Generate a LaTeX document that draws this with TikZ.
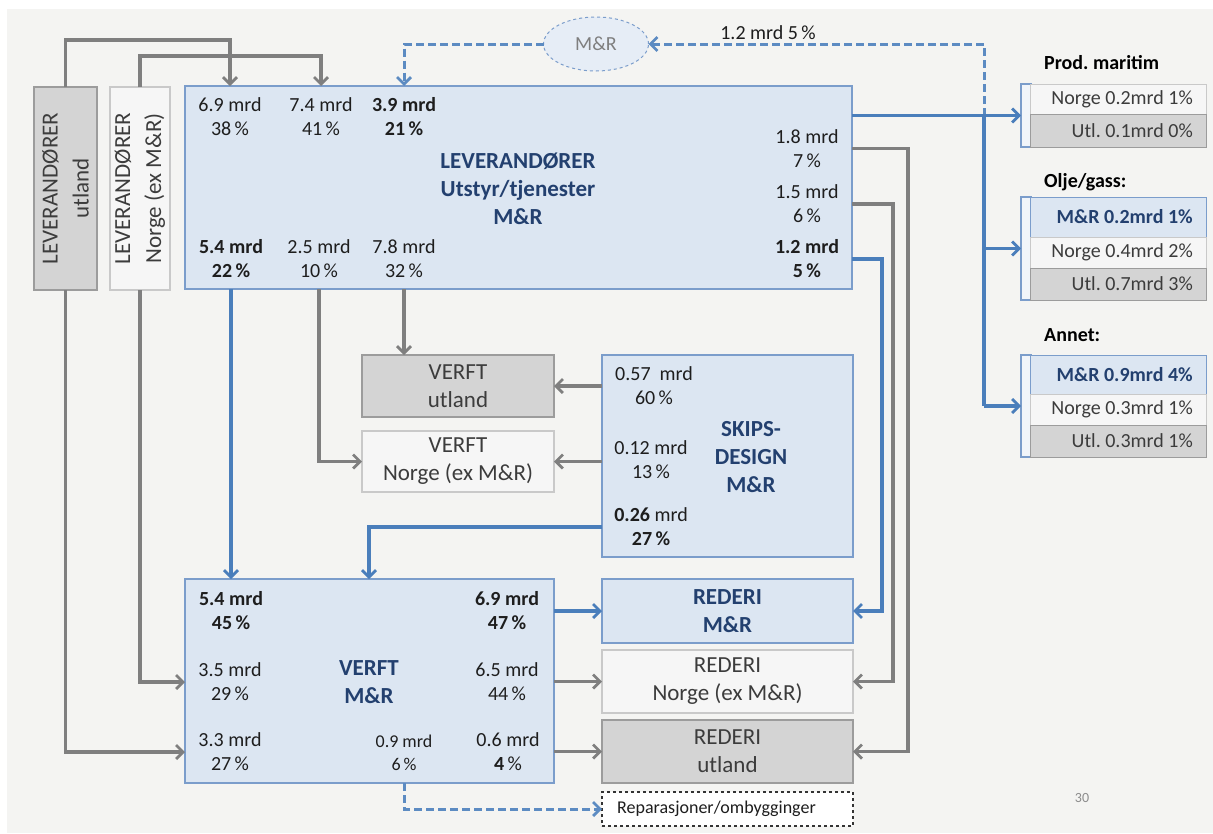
\documentclass[tikz,border=0pt]{standalone}
\usepackage{fontspec}
\setmainfont{Carlito}
\usetikzlibrary{arrows.meta,shapes.geometric,calc}
\frenchspacing
\definecolor{pagebg}{HTML}{F4F4F2}
\definecolor{bfill}{HTML}{DCE6F2}
\definecolor{bedge}{HTML}{7B9DCB}
\definecolor{bline}{HTML}{4A7EBB}
\definecolor{gline}{HTML}{7F7F7F}
\definecolor{gfill}{HTML}{D4D4D4}
\definecolor{gedge}{HTML}{9C9C9C}
\definecolor{lfill}{HTML}{F6F6F6}
\definecolor{ledge}{HTML}{C9C9C9}
\definecolor{ttlblue}{HTML}{23406F}
\definecolor{numtxt}{HTML}{1E1E1E}
\definecolor{boxtxt}{HTML}{3C3C3C}
\definecolor{pgtxt}{HTML}{8C8C8C}
\tikzset{
 boxbase/.style={draw, rectangle, inner sep=0pt, outer sep=0pt, line width=1.2pt},
 bluebox/.style={boxbase, fill=bfill, draw=bedge},
 graybox/.style={boxbase, fill=gfill, draw=gedge},
 lightbox/.style={boxbase, fill=lfill, draw=ledge},
 num/.style={align=center, inner sep=0pt, text=numtxt, font=\fontsize{20}{24}\selectfont},
 smallnum/.style={align=center, inner sep=0pt, text=numtxt, font=\fontsize{18}{23}\selectfont},
 ttl/.style={align=center, inner sep=0pt, text=ttlblue, font=\fontsize{23}{28}\selectfont\bfseries},
 boxlbl/.style={align=center, text=boxtxt, font=\fontsize{23}{28}\selectfont},
 conn/.style={line width=3.2pt, line join=miter},
 arrowtip/.style={-{Straight Barb[length=7pt,width=14pt,line width=2.8pt]}},
 garr/.style={conn, draw=gline, arrowtip},
 barr/.style={conn, draw=bline, arrowtip},
 bseg/.style={conn, draw=bline},
 bdash/.style={line width=3pt, draw=bline!90, dash pattern=on 8pt off 4pt, arrowtip},
 bracketbox/.style={boxbase, fill=white!60!bfill, draw=bedge, minimum width=10pt},
 rowbase/.style={boxbase, line width=0.9pt, minimum width=176pt},
 lightrow/.style={rowbase, fill=lfill, draw=ledge},
 grayrow/.style={rowbase, fill=gfill, draw=gedge},
 bluerow/.style={rowbase, fill=bfill, draw=bedge},
 rowtxt/.style={anchor=east, inner sep=0pt, text=boxtxt, font=\fontsize{20}{24}\selectfont},
 rowbtxt/.style={anchor=east, inner sep=0pt, text=ttlblue, font=\fontsize{20}{24}\selectfont\bfseries},
 grouphead/.style={anchor=west, inner sep=0pt, text=black, font=\fontsize{20}{24}\selectfont\bfseries},
}
\begin{document}
\begin{tikzpicture}[x=1pt,y=-1pt]
\useasboundingbox (0,0) rectangle (1213,833);
\fill[white] (0,0) rectangle (1213,833);
\fill[pagebg] (7,9) rectangle (1213,833);

% ---------- supplier boxes ----------
\node[graybox, minimum width=63pt, minimum height=203pt] (levU) at (65.5,188.5) {};
\node[rotate=90, align=center, inner sep=0pt, text=boxtxt, font=\fontsize{23}{31}\selectfont] (levUt) at (levU.center) {LEVERANDØRER\\utland};
\node[lightbox, minimum width=60pt, minimum height=203pt] (levN) at (140,188.5) {};
\node[rotate=90, align=center, inner sep=0pt, text=boxtxt, font=\fontsize{23}{31}\selectfont] (levNt) at (levN.center) {LEVERANDØRER\\Norge (ex M\&R)};

\node[bluebox, minimum width=667pt, minimum height=203pt] (lev) at (518.5,187.5) {};
\node[num] (l69) at (230,117) {6.9 mrd\\38\,\%};
\node[num] (l74) at (321,117) {7.4 mrd\\41\,\%};
\node[num] (l39) at (404,117) {\textbf{3.9 mrd}\\\textbf{21\,\%}};
\node[ttl] (levT) at (518,189) {LEVERANDØRER\\Utstyr/tjenester\\M\&R};
\node[num] (l18) at (807,148.5) {1.8 mrd\\7\,\%};
\node[num] (l15) at (807,204) {1.5 mrd\\6\,\%};
\node[num] (l12) at (807,259) {\textbf{1.2 mrd}\\\textbf{5\,\%}};
\node[num] (l54) at (231,259) {\textbf{5.4 mrd}\\\textbf{22\,\%}};
\node[num] (l25) at (319,259) {2.5 mrd\\10\,\%};
\node[num] (l78) at (404,259) {7.8 mrd\\32\,\%};

% ---------- M&R ellipse ----------
\node[ellipse, draw=bedge, dashed, line width=1pt, fill=bfill!70!white, minimum width=105pt, minimum height=54pt, inner sep=0pt, outer sep=0pt, text=gline, font=\fontsize{20}{24}\selectfont] (mr) at (596,44) {M\&R};
\node[num] (l12top) at (768,33) {1.2 mrd 5\,\%};

% ---------- shipyards / design ----------
\node[graybox, minimum width=192pt, minimum height=62pt, boxlbl] (verftU) at (458,386) {VERFT\\utland};
\node[lightbox, minimum width=192pt, minimum height=61pt, boxlbl] (verftN) at (458,461.5) {VERFT\\Norge (ex M\&R)};
\node[bluebox, minimum width=251pt, minimum height=202pt] (skips) at (727.5,456) {};
\node[num] (s57) at (654,386) {0.57\hspace{0.45em}mrd\\60\,\%};
\node[num] (s12) at (651,460) {0.12 mrd\\13\,\%};
\node[num] (s26) at (651,527) {\textbf{0.26} mrd\\\textbf{27\,\%}};
\node[ttl] (skT) at (751,457) {SKIPS-\\DESIGN\\M\&R};

\node[bluebox, minimum width=369pt, minimum height=204pt] (verft) at (369.5,681) {};
\node[num] (v54) at (231,611) {\textbf{5.4 mrd}\\\textbf{45\,\%}};
\node[num] (v35) at (230,682) {3.5 mrd\\29\,\%};
\node[num] (v33) at (230,752) {3.3 mrd\\27\,\%};
\node[ttl] (vT) at (369,682) {VERFT\\M\&R};
\node[num] (v69) at (507,611) {\textbf{6.9 mrd}\\\textbf{47\,\%}};
\node[num] (v65) at (507,682) {6.5 mrd\\44\,\%};
\node[num] (v06) at (508,752) {0.6 mrd\\\textbf{4}\,\%};
\node[smallnum] (v09) at (404,753) {0.9 mrd\\6\,\%};

% ---------- ship owners ----------
\node[bluebox, minimum width=251pt, minimum height=64pt, ttl] (rM) at (727.5,611) {REDERI\\M\&R};
\node[lightbox, minimum width=251pt, minimum height=63pt, boxlbl] (rN) at (727.5,681.5) {REDERI\\Norge (ex M\&R)};
\node[graybox, minimum width=251pt, minimum height=63pt, boxlbl] (rU) at (727.5,751.5) {REDERI\\utland};
\node[boxbase, fill=white, draw=black!80, dashed, line width=1.1pt, minimum width=251pt, minimum height=34pt] (rep) at (727.5,809) {};
\node[inner sep=0pt, text=numtxt, font=\fontsize{18}{22}\selectfont] (repT) at (716.5,809) {Reparasjoner/ombygginger};

\node[inner sep=0pt, text=pgtxt, font=\fontsize{14}{16}\selectfont] (pg) at (1082,798) {30};

% ---------- right-hand groups ----------
\node[grouphead] (pmH) at (1044,63) {Prod. maritim};
\node[bracketbox, minimum height=63pt] (pmB) at (1026,115.5) {};
\node[lightrow, minimum height=30pt] (pm1) at (1118,99) {};
\node[rowtxt] (pm1t) at ([xshift=-13pt]pm1.east) {Norge 0.2mrd 1\%};
\node[grayrow, minimum height=33pt] (pm2) at (1118,130.5) {};
\node[rowtxt] (pm2t) at ([xshift=-13pt]pm2.east) {Utl. 0.1mrd 0\%};

\node[grouphead] (ogH) at (1044,182) {Olje/gass:};
\node[bracketbox, minimum height=103pt] (ogB) at (1026,248.5) {};
\node[bluerow, minimum height=40pt] (og1) at (1118,217) {};
\node[rowbtxt] (og1t) at ([xshift=-13pt]og1.east) {M\&R 0.2mrd 1\%};
\node[lightrow, minimum height=31pt] (og2) at (1118,252.5) {};
\node[rowtxt] (og2t) at ([xshift=-13pt]og2.east) {Norge 0.4mrd 2\%};
\node[grayrow, minimum height=32pt] (og3) at (1118,284) {};
\node[rowtxt] (og3t) at ([xshift=-13pt]og3.east) {Utl. 0.7mrd 3\%};

\node[grouphead] (anH) at (1044,335) {Annet:};
\node[bracketbox, minimum height=102pt] (anB) at (1026,406) {};
\node[bluerow, minimum height=39pt] (an1) at (1118,374.5) {};
\node[rowbtxt] (an1t) at ([xshift=-13pt]an1.east) {M\&R 0.9mrd 4\%};
\node[lightrow, minimum height=31pt] (an2) at (1118,409.5) {};
\node[rowtxt] (an2t) at ([xshift=-13pt]an2.east) {Norge 0.3mrd 1\%};
\node[grayrow, minimum height=32pt] (an3) at (1118,441) {};
\node[rowtxt] (an3t) at ([xshift=-13pt]an3.east) {Utl. 0.3mrd 1\%};

% ---------- connectors ----------
\coordinate (busTop) at (984,115.5);
\coordinate (busBot) at (984,406);
\draw[bdash] (busTop) |- (mr.east);
\draw[bdash] (mr.west) -| (lev.north -| l39);
\draw[barr] (lev.east |- pmB.west) -- (pmB.west);
\draw[bseg] (busTop) -- (busBot);
\draw[barr] (busTop |- ogB.west) -- (ogB.west);
\draw[barr] (busBot) -- (anB.west);

\draw[garr] (levU.north) -- ++(0,-47) -| (lev.north -| l69);
\draw[garr] (levN.north) -- ++(0,-31) -| (lev.north -| l74);
\draw[garr] (levU.south) |- (verft.west |- v33);
\draw[garr] (levN.south) |- (verft.west |- v35);

\draw[barr] (lev.south -| l54) -- (verft.north -| l54);
\draw[garr] (lev.south -| l25) |- (verftN.west);
\draw[garr] (lev.south -| l78) -- (verftU.north -| l78);

\draw[garr] (lev.east |- l18) -- ++(56,0) |- (rU.east);
\draw[garr] (lev.east |- l15) -- ++(41,0) |- (rN.east);
\draw[barr] (lev.east |- l12) -- ++(30,0) |- (rM.east);

\draw[garr] (skips.west |- verftU.east) -- (verftU.east);
\draw[garr] (skips.west |- verftN.east) -- (verftN.east);
\draw[barr] (skips.west |- s26) -| (verft.north -| vT);

\draw[barr] (verft.east |- rM.west) -- (rM.west);
\draw[garr] (verft.east |- rN.west) -- (rN.west);
\draw[garr] (verft.east |- rU.west) -- (rU.west);
\draw[bdash] (verft.south -| v09) |- (rep.west);
\end{tikzpicture}
\end{document}
